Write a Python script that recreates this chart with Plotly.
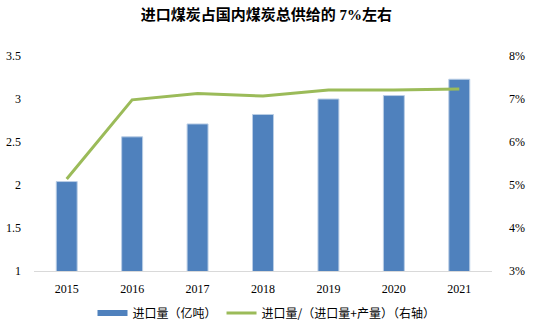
import plotly.graph_objects as go

years = ["2015", "2016", "2017", "2018", "2019", "2020", "2021"]
imports = [2.04, 2.56, 2.71, 2.82, 3.00, 3.04, 3.23]
share_pct = [5.14, 6.98, 7.13, 7.07, 7.21, 7.21, 7.23]
left_ticks = [1, 1.5, 2, 2.5, 3, 3.5]
left_tick_text = ["1", "1.5", "2", "2.5", "3", "3.5"]
right_ticks = [3, 4, 5, 6, 7, 8]
right_tick_text = ["3%", "4%", "5%", "6%", "7%", "8%"]

serif = "'Liberation Serif', 'Times New Roman', 'Noto Sans CJK SC'"
bar_color = "#4F81BD"
line_color = "#9BBB59"

fig = go.Figure()
fig.add_trace(go.Bar(
    x=years, y=imports, name="进口量（亿吨）", showlegend=False,
    marker=dict(color=bar_color, line=dict(color="#B9CDE5", width=1)),
    width=0.32, base=0,
))
# legend entry for the bars (wide swatch like the reference)
fig.add_trace(go.Scatter(
    x=[None], y=[None], name="进口量（亿吨）", mode="lines",
    line=dict(color=bar_color, width=6),
))
fig.add_trace(go.Scatter(
    x=years, y=share_pct, name="进口量/（进口量+产量）（右轴）",
    mode="lines", line=dict(color=line_color, width=3), yaxis="y2",
))

fig.update_layout(
    width=533, height=329,
    margin=dict(l=34, r=41, t=56, b=58, autoexpand=False),
    paper_bgcolor="white", plot_bgcolor="white",
    title=dict(text="<b>进口煤炭占国内煤炭总供给的 7%左右</b>", x=0.5, xanchor="center",
               y=1 - 15 / 329, yanchor="middle",
               font=dict(family=serif, size=15, color="black")),
    font=dict(family=serif, size=12, color="black"),
    xaxis=dict(type="category", range=[-0.5, 6.5], showline=True, linecolor="#D9D9D9",
               linewidth=1, ticks="", showgrid=False, ticklabelstandoff=7,
               tickfont=dict(family=serif, size=12)),
    yaxis=dict(range=[1, 3.5], tickvals=left_ticks, ticktext=left_tick_text,
               showgrid=False, zeroline=False, showline=False, ticks="",
               ticklabelstandoff=12,
               tickfont=dict(family=serif, size=12)),
    yaxis2=dict(range=[3, 8], tickvals=right_ticks, ticktext=right_tick_text,
                overlaying="y", side="right", showgrid=False, zeroline=False,
                showline=False, ticks="", ticklabelstandoff=16,
                tickfont=dict(family=serif, size=12)),
    legend=dict(orientation="h", x=0.5, xanchor="center", xref="container",
                y=1 - 313 / 329, yanchor="middle", yref="container",
                font=dict(family="Noto Sans CJK SC", size=12), itemwidth=30,
                traceorder="normal"),
)

fig.write_html("out.html")
